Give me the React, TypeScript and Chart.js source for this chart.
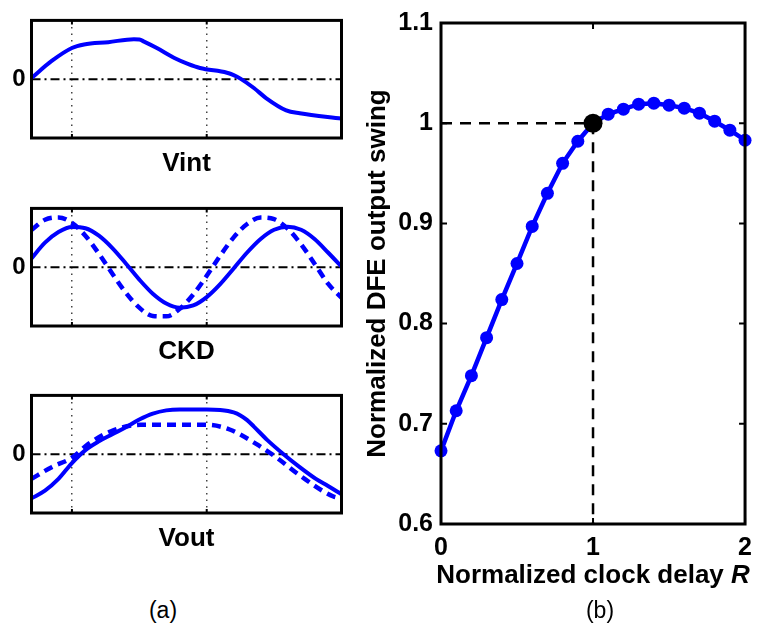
import React, { useEffect, useRef } from 'react';
import { Chart, registerables } from 'chart.js';

Chart.register(...registerables);

const FONT = "'Liberation Sans', Arial, Helvetica, sans-serif";
const BLUE = '#0000ff';

// ---------- panel (b) ----------
const delayR = [0, 0.1, 0.2, 0.3, 0.4, 0.5, 0.6, 0.7, 0.8, 0.9, 1.0, 1.1, 1.2, 1.3, 1.4, 1.5, 1.6, 1.7, 1.8, 1.9, 2.0];
const swing = [0.673, 0.713, 0.748, 0.786, 0.824, 0.86, 0.897, 0.93, 0.96, 0.982, 1.0, 1.009, 1.014, 1.019, 1.02, 1.018, 1.015, 1.01, 1.002, 0.993, 0.983];
const refX = [0, 1, 1];
const refY = [1, 1, 0.6];
const markX = [1];
const markY = [1];
const yTicksB = [0.6, 0.7, 0.8, 0.9, 1.0, 1.1];
const yTickLabelsB = ['0.6', '0.7', '0.8', '0.9', '1', '1.1'];
const xTicksB = [0, 1, 2];
const xTickLabelsB = ['0', '1', '2'];

// ---------- panel (a) ----------
const gridT = [0, 1];
const zeroT = [-0.3, 2.0];
const zeroV = [0, 0];

const vintT = [-0.3, -0.15, 0, 0.09, 0.27, 0.46, 0.5, 0.535, 0.63, 0.76, 0.86, 0.95, 1.15, 1.2, 1.25, 1.35, 1.44, 1.59, 1.69, 2.0];
const vint = [0.02, 0.31, 0.53, 0.59, 0.63, 0.68, 0.675, 0.64, 0.53, 0.36, 0.26, 0.19, 0.11, 0.07, 0.01, -0.15, -0.32, -0.53, -0.58, -0.67];

const ckdT = [-0.3, -0.2, -0.1, 0, 0.1, 0.2, 0.3, 0.4, 0.5, 0.6, 0.7, 0.8, 0.9, 1.0, 1.1, 1.2, 1.3, 1.4, 1.5, 1.6, 1.7, 1.8, 1.9, 2.0];
const ckdSolid = [0.15, 0.418, 0.599, 0.685, 0.663, 0.536, 0.325, 0.063, -0.211, -0.451, -0.618, -0.689, -0.651, -0.509, -0.288, -0.021, 0.25, 0.48, 0.636, 0.69, 0.636, 0.48, 0.25, 0.01];
const ckdDashed = [0.633, 0.806, 0.847, 0.752, 0.535, 0.23, -0.111, -0.434, -0.688, -0.829, -0.836, -0.707, -0.464, -0.146, 0.196, 0.507, 0.734, 0.844, 0.816, 0.656, 0.39, 0.059, -0.28, -0.52];

const voutSolidT = [-0.3, -0.2, -0.1, 0, 0.1, 0.2, 0.3, 0.4, 0.5, 0.6, 0.7, 0.8, 1.0, 1.1, 1.2, 1.25, 1.3, 1.35, 1.45, 1.57, 1.69, 1.81, 1.9, 2.0];
const voutSolid = [-0.75, -0.62, -0.42, -0.15, 0.07, 0.22, 0.34, 0.46, 0.59, 0.69, 0.745, 0.76, 0.76, 0.75, 0.71, 0.66, 0.58, 0.47, 0.24, 0.0, -0.22, -0.42, -0.54, -0.68];
const voutDashedT = [-0.3, -0.15, 0, 0.12, 0.29, 0.51, 0.75, 1.0, 1.17, 1.37, 1.52, 1.69, 1.94, 2.0];
const voutDashed = [-0.42, -0.22, -0.06, 0.17, 0.39, 0.5, 0.5, 0.5, 0.42, 0.17, -0.06, -0.36, -0.72, -0.75];

const pts = (xs: number[], ys: number[]) => xs.map((x, i) => ({ x, y: ys[i] }));

const framePlugin = {
  id: 'frame',
  afterDatasetsDraw(chart: any, _args: any, opts: any) {
    const { ctx, chartArea: a } = chart;
    ctx.save();
    ctx.strokeStyle = '#000';
    ctx.lineWidth = opts.width || 3;
    ctx.setLineDash([]);
    ctx.strokeRect(a.left, a.top, a.right - a.left, a.bottom - a.top);
    const len = opts.tickLen || 0;
    if (len > 0) {
      ctx.lineWidth = 2;
      ctx.beginPath();
      const xs = chart.scales.x;
      xs.ticks.forEach((t: any) => {
        const p = xs.getPixelForValue(t.value);
        ctx.moveTo(p, a.bottom);
        ctx.lineTo(p, a.bottom - len);
        ctx.moveTo(p, a.top);
        ctx.lineTo(p, a.top + len);
      });
      if (opts.yTicks) {
        const ys = chart.scales.y;
        ys.ticks.forEach((t: any) => {
          const p = ys.getPixelForValue(t.value);
          ctx.moveTo(a.left, p);
          ctx.lineTo(a.left + len, p);
          ctx.moveTo(a.right, p);
          ctx.lineTo(a.right - len, p);
        });
      }
      ctx.stroke();
    }
    ctx.restore();
  },
};

const xTitlePlugin = {
  id: 'xTitleMixed',
  afterDraw(chart: any, _args: any, opts: any) {
    if (!opts || !opts.text) return;
    const { ctx, chartArea: a } = chart;
    ctx.save();
    ctx.fillStyle = '#000';
    ctx.textBaseline = 'middle';
    ctx.textAlign = 'left';
    const f1 = `bold ${opts.size}px ${FONT}`;
    const f2 = `italic bold ${opts.size}px ${FONT}`;
    ctx.font = f1;
    const w1 = ctx.measureText(opts.text).width;
    ctx.font = f2;
    const w2 = ctx.measureText(opts.italic).width;
    const cx = (a.left + a.right) / 2;
    const y = a.bottom + opts.offset;
    const x = cx - (w1 + w2) / 2;
    ctx.font = f1;
    ctx.fillText(opts.text, x, y);
    ctx.font = f2;
    ctx.fillText(opts.italic, x + w1, y);
    ctx.restore();
  },
};

function SmallPanel(props: {
  top: number;
  title: string;
  solid: { x: number; y: number }[];
  dashed?: { x: number; y: number }[];
}) {
  const ref = useRef<HTMLCanvasElement | null>(null);
  useEffect(() => {
    if (!ref.current) return;
    const datasets: any[] = [
      {
        data: props.solid,
        borderColor: BLUE,
        borderWidth: 4,
        pointRadius: 0,
        cubicInterpolationMode: 'monotone',
        fill: false,
      },
    ];
    if (props.dashed) {
      datasets.push({
        data: props.dashed,
        borderColor: BLUE,
        borderWidth: 4.5,
        borderDash: [9, 6],
        pointRadius: 0,
        cubicInterpolationMode: 'monotone',
        fill: false,
      });
    }
    datasets.push({
      data: pts(zeroT, zeroV),
      borderColor: '#000',
      borderWidth: 2,
      borderDash: [9, 4, 2, 4],
      pointRadius: 0,
      fill: false,
    });
    const chart = new Chart(ref.current, {
      type: 'line',
      data: { datasets },
      plugins: [framePlugin],
      options: {
        animation: false,
        responsive: false,
        events: [],
        layout: { padding: { top: 18, right: 13.5, left: 0, bottom: 0 } },
        plugins: {
          legend: { display: false },
          tooltip: { enabled: false },
          frame: { width: 3, tickLen: 4 },
        } as any,
        scales: {
          x: {
            type: 'linear',
            min: -0.3,
            max: 2.0,
            afterBuildTicks: (s: any) => {
              s.ticks = gridT.map((v) => ({ value: v }));
            },
            afterFit: (s: any) => {
              s.height = 52;
            },
            ticks: { display: false },
            grid: { display: true, color: '#444', lineWidth: 1.5, drawTicks: false },
            border: { display: false, dash: [1.5, 5] },
            title: {
              display: true,
              text: props.title,
              color: '#000',
              font: { family: FONT, size: 26, weight: 'bold' },
              padding: { top: 0, bottom: 11 },
            },
          },
          y: {
            type: 'linear',
            min: -1,
            max: 1,
            afterBuildTicks: (s: any) => {
              s.ticks = [{ value: 0 }];
            },
            afterFit: (s: any) => {
              s.width = 31.5;
            },
            ticks: {
              callback: () => '0',
              color: '#000',
              padding: 6,
              font: { family: FONT, size: 24, weight: 'bold' },
            },
            grid: { display: false, drawTicks: false },
            border: { display: false },
          },
        },
      } as any,
    });
    return () => chart.destroy();
  }, []);
  return (
    <canvas
      ref={ref}
      width={355}
      height={190}
      style={{ position: 'absolute', left: 0, top: props.top, width: 355, height: 190 }}
    />
  );
}

function MainPanel() {
  const ref = useRef<HTMLCanvasElement | null>(null);
  useEffect(() => {
    if (!ref.current) return;
    const chart = new Chart(ref.current, {
      type: 'line',
      data: {
        datasets: [
          {
            data: pts(markX, markY),
            showLine: false,
            pointRadius: 9.5,
            pointBackgroundColor: '#000',
            pointBorderColor: '#000',
            pointBorderWidth: 0,
            clip: false,
          },
          {
            data: pts(delayR, swing),
            borderColor: BLUE,
            borderWidth: 4.5,
            pointRadius: 6.5,
            pointBackgroundColor: BLUE,
            pointBorderColor: BLUE,
            pointBorderWidth: 0,
            tension: 0,
            clip: false,
          },
          {
            data: pts(refX, refY),
            borderColor: '#000',
            borderWidth: 2.5,
            borderDash: [11, 8],
            pointRadius: 0,
            tension: 0,
          },
        ],
      },
      plugins: [framePlugin, xTitlePlugin],
      options: {
        animation: false,
        responsive: false,
        events: [],
        layout: { padding: { top: 19, right: 9.5, left: 0, bottom: 0 } },
        plugins: {
          legend: { display: false },
          tooltip: { enabled: false },
          frame: { width: 3, tickLen: 6, yTicks: true },
          xTitleMixed: { text: 'Normalized clock delay ', italic: 'R', size: 26, offset: 52 },
        } as any,
        scales: {
          x: {
            type: 'linear',
            min: 0,
            max: 2,
            afterBuildTicks: (s: any) => {
              s.ticks = xTicksB.map((v) => ({ value: v }));
            },
            afterFit: (s: any) => {
              s.height = 104;
            },
            ticks: {
              callback: (_v: any, i: number) => xTickLabelsB[i],
              color: '#000',
              padding: 9,
              maxRotation: 0,
              font: { family: FONT, size: 25, weight: 'bold' },
            },
            grid: { display: false, drawTicks: false },
            border: { display: false },
          },
          y: {
            type: 'linear',
            min: 0.6,
            max: 1.1,
            afterBuildTicks: (s: any) => {
              s.ticks = yTicksB.map((v) => ({ value: v }));
            },
            afterFit: (s: any) => {
              s.width = 86;
            },
            ticks: {
              callback: (_v: any, i: number) => yTickLabelsB[i],
              color: '#000',
              padding: 8,
              font: { family: FONT, size: 25, weight: 'bold' },
            },
            grid: { display: false, drawTicks: false },
            border: { display: false },
            title: {
              display: true,
              text: 'Normalized DFE output swing',
              color: '#000',
              font: { family: FONT, size: 26, weight: 'bold' },
              padding: { top: 7, bottom: 0 },
            },
          },
        },
      } as any,
    });
    return () => chart.destroy();
  }, []);
  return (
    <canvas
      ref={ref}
      width={406}
      height={628}
      style={{ position: 'absolute', left: 355, top: 0, width: 406, height: 628 }}
    />
  );
}

const captionStyle: React.CSSProperties = {
  position: 'absolute',
  width: 100,
  textAlign: 'center',
  fontFamily: FONT,
  fontSize: 23,
  lineHeight: '26px',
  color: '#000',
};

export default function App() {
  return (
    <div style={{ position: 'absolute', left: 0, top: 0, width: 761, height: 628, background: '#fff', overflow: 'hidden' }}>
      <SmallPanel top={0} title="Vint" solid={pts(vintT, vint)} />
      <SmallPanel top={188} title="CKD" solid={pts(ckdT, ckdSolid)} dashed={pts(ckdT, ckdDashed)} />
      <SmallPanel top={375} title="Vout" solid={pts(voutSolidT, voutSolid)} dashed={pts(voutDashedT, voutDashed)} />
      <MainPanel />
      <div style={{ ...captionStyle, left: 113, top: 597 }}>(a)</div>
      <div style={{ ...captionStyle, left: 550, top: 597 }}>(b)</div>
    </div>
  );
}
